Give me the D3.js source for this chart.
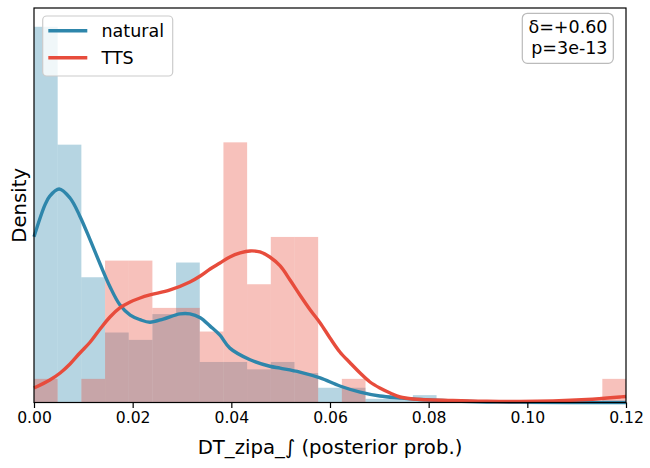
<!DOCTYPE html>
<html>
<head>
<meta charset="utf-8">
<script src="https://cdn.jsdelivr.net/npm/d3@7/dist/d3.min.js"></script>
<style>
  html, body { margin: 0; padding: 0; background: #fff; }
  svg { display: block; font-family: "DejaVu Sans", sans-serif; }
</style>
</head>
<body>
<svg id="chart" width="650" height="468"></svg>
<script>
// ---- data ----
const binStart = 0;
const binWidth = 0.0048;
const naturalCounts = [102,70,34,19,17,24,38,11,11,9,11,8,4,4,1,1,2,0,0,0,0,0,0,0,0];
const ttsCounts     = [1,0,1,6,6,4,4,3,11,5,7,7,0,1,0,0,0,0,0,0,0,0,0,0,1];

const naturalKdeX = [0,0.0022,0.0032,0.0051,0.0073,0.0093,0.0114,0.0134,0.0154,0.0174,0.0195,0.0215,0.0235,0.0262,0.0296,0.0316,0.0337,0.0357,0.0377,0.0397,0.0438,0.0478,0.0499,0.0539,0.0580,0.0620,0.0661,0.0701,0.0742,0.0782,0.0849,0.0918,0.0985,0.12];
const naturalKdeY = [25.6,30.5,31.9,33.0,31.6,28.8,25.1,21.4,17.9,15.1,13.5,12.8,12.4,12.9,13.7,13.7,13.1,11.8,10.4,8.4,6.6,5.6,5.3,4.7,3.8,2.55,1.6,1.0,0.7,0.46,0.23,0.08,0.03,0.0];

const ttsKdeX = [0,0.0032,0.0053,0.0073,0.0093,0.0114,0.0134,0.0154,0.0174,0.0195,0.0215,0.0235,0.0276,0.0316,0.0337,0.0357,0.0377,0.0397,0.0418,0.0438,0.0458,0.0478,0.0499,0.0519,0.0539,0.0560,0.0580,0.0600,0.0620,0.0641,0.0661,0.0681,0.0701,0.0722,0.0742,0.0768,0.0849,0.0918,0.0985,0.1052,0.1121,0.1188,0.12];
const ttsKdeY = [2.24,3.48,4.56,5.95,7.65,9.35,11.36,13.21,14.61,15.53,16.15,16.62,17.39,18.62,19.55,20.63,21.56,22.49,23.11,23.42,23.26,22.49,21.10,18.93,16.62,14.30,12.29,9.97,7.81,6.11,4.56,3.17,2.24,1.47,0.85,0.54,0.31,0.19,0.15,0.23,0.46,0.85,0.93];

const xTicks = [0,0.02,0.04,0.06,0.08,0.10,0.12];
const seriesNames = ["natural","TTS"];
const statLines = ["δ=+0.60","p=3e-13"];

// ---- layout ----
const plotL = 34, plotR = 626, plotT = 8, plotB = 402.5;
const blue = "#2e86ab", red = "#e74c3c";

const svg = d3.select("#chart");

function toDensity(counts) {
  const n = d3.sum(counts);
  return counts.map((c, i) => ({x0: binStart + i*binWidth, x1: binStart + (i+1)*binWidth, d: c/(n*binWidth)}));
}
const natBins = toDensity(naturalCounts);
const ttsBins = toDensity(ttsCounts);

const yMax = d3.max(natBins.concat(ttsBins), b => b.d) * 1.05;

const x = d3.scaleLinear().domain([0, 0.12]).range([plotL, plotR]);
const y = d3.scaleLinear().domain([0, yMax]).range([plotB, plotT]);

// histograms
function drawHist(bins, color) {
  svg.append("g").selectAll("rect").data(bins.filter(b => b.d > 0)).join("rect")
    .attr("x", b => x(b.x0))
    .attr("width", b => x(b.x1) - x(b.x0))
    .attr("y", b => y(b.d))
    .attr("height", b => y(0) - y(b.d))
    .attr("fill", color)
    .attr("fill-opacity", 0.35);
}
drawHist(natBins, blue);
drawHist(ttsBins, red);

// KDE lines
const line = d3.line().x(d => x(d[0])).y(d => y(d[1])).curve(d3.curveCatmullRom.alpha(0.5));
svg.append("path").datum(d3.zip(naturalKdeX, naturalKdeY))
  .attr("d", line).attr("fill", "none").attr("stroke", blue).attr("stroke-width", 3.4);
svg.append("path").datum(d3.zip(ttsKdeX, ttsKdeY))
  .attr("d", line).attr("fill", "none").attr("stroke", red).attr("stroke-width", 3.4);

// x axis
const xAxis = d3.axisBottom(x).tickValues(xTicks).tickFormat(d3.format(".2f")).tickSize(5.5).tickPadding(3.5);
const gx = svg.append("g").attr("transform", `translate(0,${plotB})`).call(xAxis);
gx.select(".domain").remove();
gx.selectAll(".tick line").attr("stroke", "#000").attr("stroke-width", 1.2);
gx.selectAll(".tick text").attr("font-size", 15.6).attr("fill", "#000").attr("font-family", "DejaVu Sans");

// frame
svg.append("rect").attr("x", plotL).attr("y", plotT).attr("width", plotR - plotL).attr("height", plotB - plotT)
  .attr("fill", "none").attr("stroke", "#000").attr("stroke-width", 1.2);

// axis labels
svg.append("text").attr("x", (plotL + plotR)/2).attr("y", 453.5).attr("text-anchor", "middle")
  .attr("font-size", 19.7).attr("fill", "#000").text("DT_zipa_∫ (posterior prob.)");
svg.append("text").attr("transform", `translate(25.5,${(plotT + plotB)/2}) rotate(-90)`).attr("text-anchor", "middle")
  .attr("font-size", 19.7).attr("fill", "#000").text("Density");

// legend
const lg = svg.append("g");
lg.append("rect").attr("x", 42.7).attr("y", 16).attr("width", 130).attr("height", 60).attr("rx", 4)
  .attr("fill", "#fff").attr("fill-opacity", 0.8).attr("stroke", "#cccccc").attr("stroke-width", 1.2);
[blue, red].forEach((c, i) => {
  const yy = 30.7 + i*27;
  lg.append("line").attr("x1", 48.3).attr("x2", 87.3).attr("y1", yy).attr("y2", yy)
    .attr("stroke", c).attr("stroke-width", 3.4);
  lg.append("text").attr("x", 101.5).attr("y", yy + 6.4).attr("font-size", 17.5).attr("fill", "#000").text(seriesNames[i]);
});

// stats box
const sg = svg.append("g");
sg.append("rect").attr("x", 522.3).attr("y", 13.3).attr("width", 91).attr("height", 50).attr("rx", 5)
  .attr("fill", "#fff").attr("stroke", "#bbbbbb").attr("stroke-width", 1.2);
statLines.forEach((t, i) => {
  sg.append("text").attr("x", 607.5).attr("y", 33.3 + i*20.7).attr("text-anchor", "end")
    .attr("font-size", 17.5).attr("fill", "#000").text(t);
});
</script>
</body>
</html>
